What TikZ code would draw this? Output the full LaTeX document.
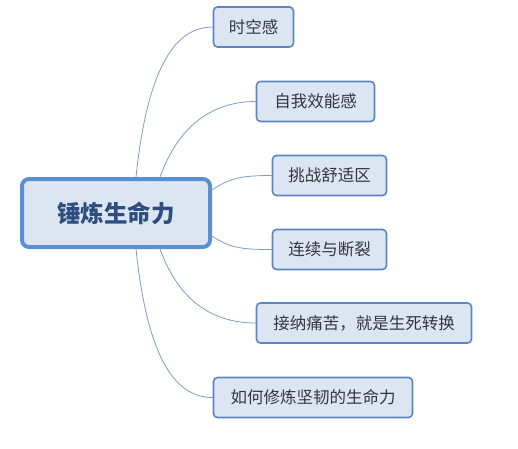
\documentclass[tikz,border=0pt]{standalone}
\usepackage{fontspec}
\setmainfont{Noto Sans CJK SC}
\usepackage{tikz}
\usepackage{xcolor}
\definecolor{boxfill}{HTML}{DCE6F2}
\definecolor{boxline}{HTML}{5A86C0}
\definecolor{rootline}{HTML}{5B8FD3}
\definecolor{linkcol}{HTML}{7F9CC4}
\definecolor{roottext}{HTML}{2F4D7E}
\definecolor{leaftext}{HTML}{33363D}

\begin{document}
\begin{tikzpicture}[x=1pt,y=-1pt,line cap=round,
  rootbox/.style={draw=rootline,fill=boxfill,line width=4pt,rounded corners=7pt,
    minimum width=188pt,minimum height=68pt,inner sep=0pt,text=roottext,
    font=\fontsize{23.5}{28}\selectfont\bfseries},
  leafbox/.style={draw=boxline,fill=boxfill,line width=1.6pt,rounded corners=4pt,
    minimum height=40pt,inner sep=0pt,text=leaftext,
    font=\fontsize{16.5}{20}\selectfont},
  link/.style={draw=linkcol,line width=0.8pt}]
\useasboundingbox (0,0) rectangle (518,448);
\node[rootbox] (root) at (116,213) {锤炼生命力};
\node[leafbox,minimum width=80pt] (t1) at (253.5,27) {时空感};
\node[leafbox,minimum width=118pt] (t2) at (315.5,101.5) {自我效能感};
\node[leafbox,minimum width=114pt] (t3) at (329.5,175.5) {挑战舒适区};
\node[leafbox,minimum width=114pt] (t4) at (329.5,249.5) {连续与断裂};
\node[leafbox,minimum width=215pt] (t5) at (364,323) {接纳痛苦，就是生死转换};
\node[leafbox,minimum width=199pt] (t6) at (313,397.5) {如何修炼坚韧的生命力};
% links
\draw[link] ([xshift=20pt]root.north) .. controls +(12,-115) and +(-35,0) .. (t1.west);
\draw[link] ([xshift=44pt]root.north) .. controls +(20,-55) and +(-40,0) .. (t2.west);
\draw[link] ([yshift=23pt]root.east) .. controls +(18,-12) and +(-30,0) .. (t3.west);
\draw[link] ([yshift=-23pt]root.east) .. controls +(18,12) and +(-30,0) .. (t4.west);
\draw[link] ([xshift=44pt]root.south) .. controls +(20,55) and +(-40,0) .. (t5.west);
\draw[link] ([xshift=20pt]root.south) .. controls +(12,115) and +(-35,0) .. (t6.west);
\end{tikzpicture}
\end{document}
